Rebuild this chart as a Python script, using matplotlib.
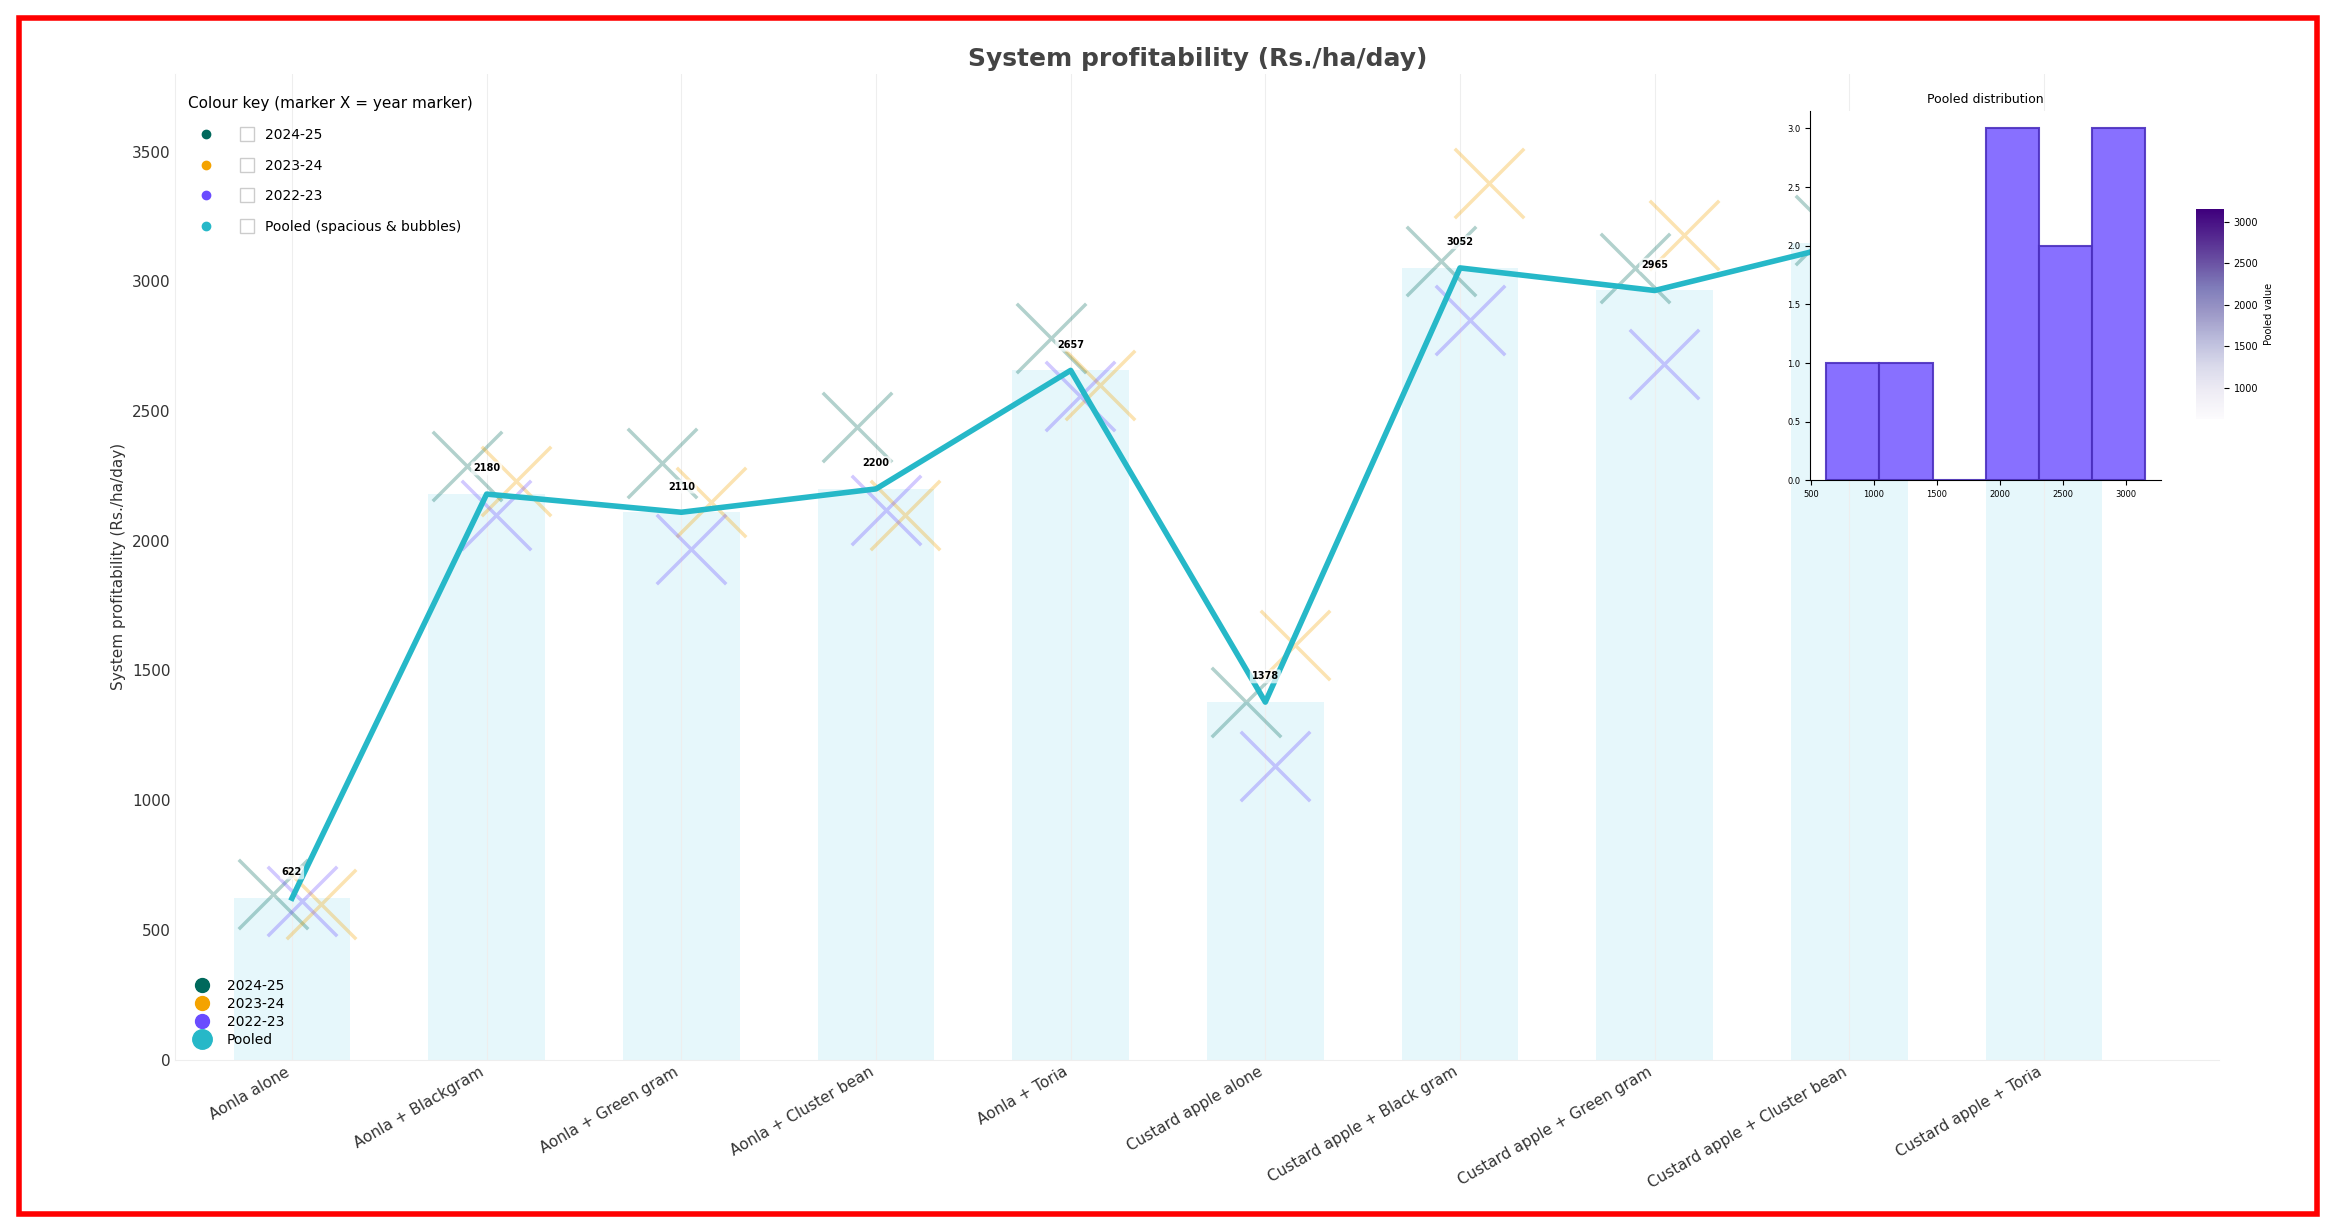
import numpy as np
import matplotlib
matplotlib.use("Agg")
import matplotlib.pyplot as plt
from matplotlib.lines import Line2D
from matplotlib.patches import Rectangle
from matplotlib.legend_handler import HandlerTuple

categories = ["Aonla alone", "Aonla + Blackgram", "Aonla + Green gram", "Aonla + Cluster bean",
              "Aonla + Toria", "Custard apple alone", "Custard apple + Black gram",
              "Custard apple + Green gram", "Custard apple + Cluster bean", "Custard apple + Toria"]
pooled = [622, 2180, 2110, 2200, 2657, 1378, 3052, 2965, 3150, 2600]
y2024 = [640, 2290, 2300, 2440, 2780, 1380, 3080, 3050, 3200, 2650]
y2023 = [600, 2230, 2150, 2100, 2600, 1600, 3380, 3180, 3250, 2700]
y2022 = [610, 2100, 1970, 2120, 2560, 1130, 2850, 2680, 3000, 2450]
years = ["2024-25", "2023-24", "2022-23"]
year_cols = ["#00695c", "#f4a300", "#6a4cff"]
pooled_col = "#26b8c8"

fig = plt.figure(figsize=(23.36, 12.32), dpi=100)
ax = fig.add_axes([0.075, 0.14, 0.875, 0.80])
x = np.arange(len(categories))

ax.bar(x, pooled, width=0.6, color="#e0f5fa", alpha=0.8, zorder=1)
for i, (vals, col) in enumerate(zip([y2024, y2023, y2022], year_cols)):
    off = [-0.1, 0.15, 0.05][i]
    ax.scatter(x + off, vals, marker="x", s=2500, color=col, alpha=0.3, linewidths=2.5, zorder=2)
ax.plot(x, pooled, color=pooled_col, lw=4, zorder=3)
for xi, v in zip(x, pooled):
    ax.text(xi, v + 80, str(v), ha="center", va="bottom", fontsize=7, fontweight="bold",
            bbox=dict(boxstyle="round,pad=0.2", fc="white", ec="none", alpha=0.7), zorder=4)

ax.set_xlim(-0.6, 9.9)
ax.set_ylim(0, 3800)
ax.set_yticks(np.arange(0, 3501, 500))
ax.set_xticks(x)
ax.set_xticklabels(categories, rotation=30, ha="right", fontsize=11, color="#333333")
ax.tick_params(axis="y", labelsize=11, colors="#333333", length=0)
ax.tick_params(axis="x", length=0)
ax.set_ylabel("System profitability (Rs./ha/day)", fontsize=11, color="#333333")
ax.set_title("System profitability (Rs./ha/day)", fontsize=18, fontweight="bold", color="#444444")
ax.grid(axis="x", color="#eeeeee")
for s in ["top", "right"]:
    ax.spines[s].set_visible(False)
ax.spines["left"].set_color("#eeeeee")
ax.spines["bottom"].set_color("#eeeeee")

# colour key legend
key_labels = years + ["Pooled (spacious & bubbles)"]
key_handles = []
for col in year_cols + [pooled_col]:
    key_handles.append((Line2D([], [], marker="o", ls="", color=col, ms=6),
                        Line2D([], [], marker="s", ls="", mfc="white", mec="#cccccc", ms=10)))
leg1 = ax.legend(key_handles, key_labels,
                 handler_map={tuple: HandlerTuple(ndivide=None, pad=2.0)},
                 title="Colour key (marker X = year marker)", loc="upper left",
                 bbox_to_anchor=(0.0, 0.99), fontsize=10, title_fontsize=11,
                 frameon=False, labelspacing=1.2, handlelength=4)
ax.add_artist(leg1)
h2 = [Line2D([], [], marker="o", ls="", color=c, ms=s) for c, s in zip(year_cols + [pooled_col], [10, 10, 10, 14])]
ax.legend(h2, years + ["Pooled"], loc="lower left", fontsize=10, frameon=False, labelspacing=0.3)

# inset histogram
ins = fig.add_axes([0.775, 0.61, 0.15, 0.30])
counts, edges = np.histogram(pooled, bins=6)
ins.hist(pooled, bins=edges, color="#7b61ff", alpha=0.9, edgecolor="#4b2fbf", lw=1.5)
ins.set_title("Pooled distribution", fontsize=9)
ins.tick_params(labelsize=6)
ins.set_yticks(np.arange(0, 3.01, 0.5))
for s in ["top", "right"]:
    ins.spines[s].set_visible(False)
ins.set_facecolor("white")
cax = fig.add_axes([0.94, 0.66, 0.012, 0.17])
sm = plt.cm.ScalarMappable(cmap="Purples", norm=plt.Normalize(min(pooled), max(pooled)))
cb = fig.colorbar(sm, cax=cax)
cb.set_label("Pooled value", fontsize=7)
cb.ax.tick_params(labelsize=7)
cb.outline.set_visible(False)

fig.patches.append(Rectangle((0.008, 0.015), 0.984, 0.97, transform=fig.transFigure,
                             fill=False, ec="red", lw=4))
fig.savefig("out.png", dpi=100)
